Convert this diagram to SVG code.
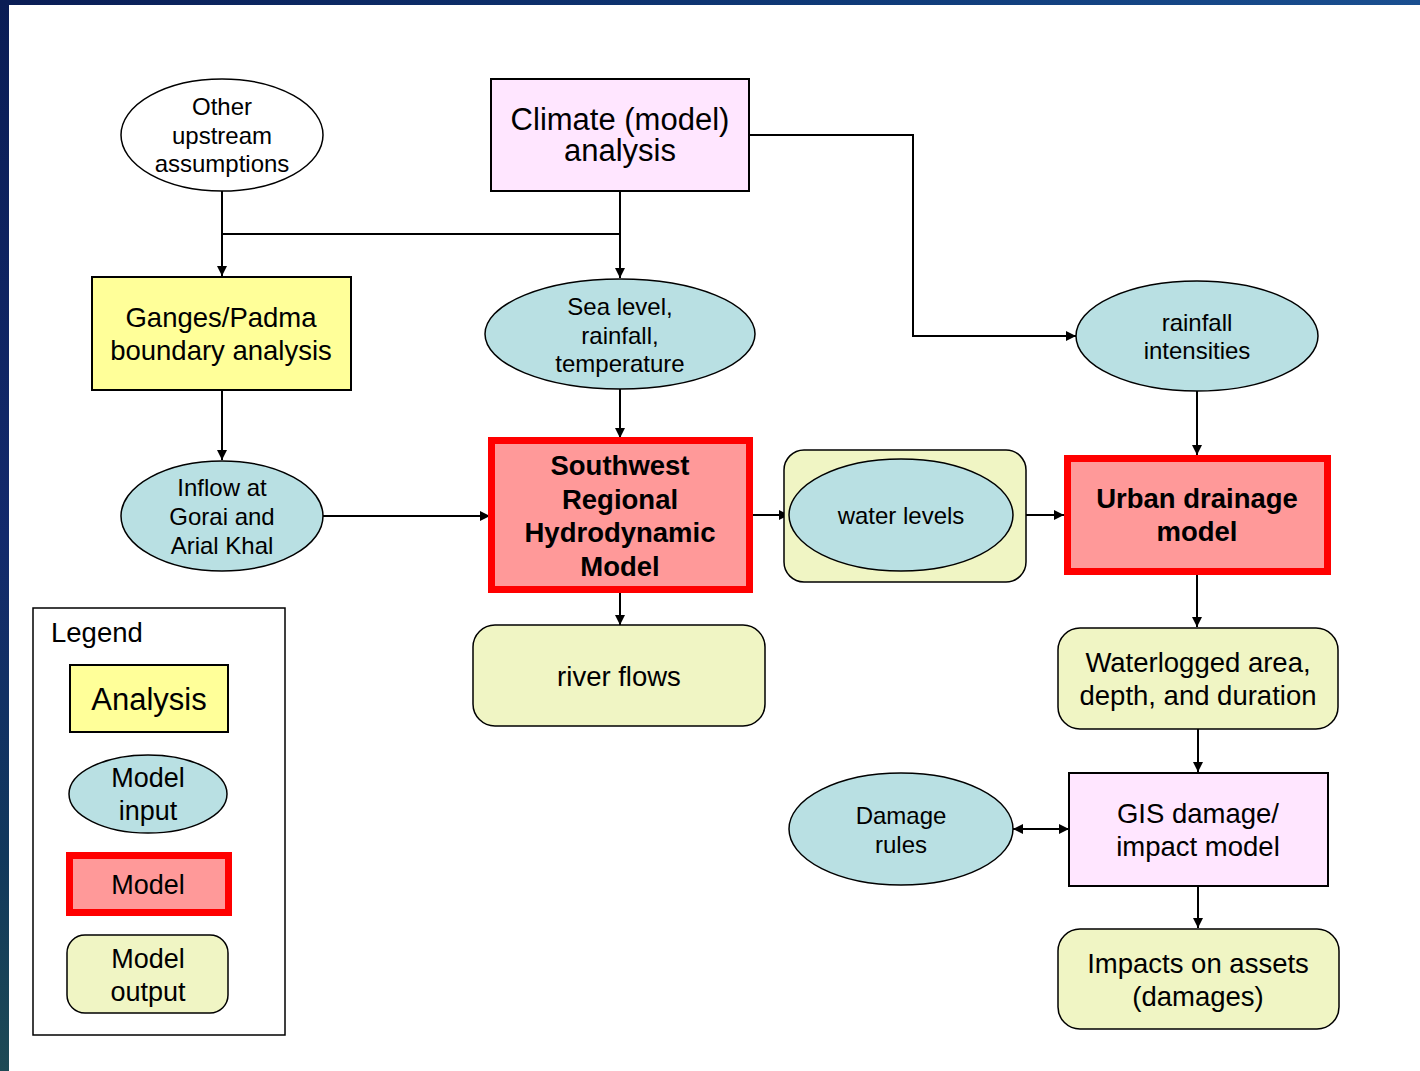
<svg xmlns="http://www.w3.org/2000/svg" width="1420" height="1071" viewBox="0 0 1420 1071">
<defs>
<linearGradient id="gl" x1="0" y1="0" x2="0" y2="1">
<stop offset="0" stop-color="#0a1d55"/>
<stop offset="0.5" stop-color="#132a6c"/>
<stop offset="0.8" stop-color="#11385c"/>
<stop offset="1" stop-color="#1e4a55"/>
</linearGradient>
<linearGradient id="gt" x1="0" y1="0" x2="1" y2="0">
<stop offset="0" stop-color="#0a1d55"/>
<stop offset="0.6" stop-color="#0f3a78"/>
<stop offset="1" stop-color="#1a4f90"/>
</linearGradient>
<marker id="ar" viewBox="0 0 10 10" refX="10" refY="5" markerWidth="10" markerHeight="10" markerUnits="userSpaceOnUse" orient="auto-start-reverse">
<path d="M0,0 L10,5 L0,10 Z" fill="#000"/>
</marker>
<style>
.t{font-family:"Liberation Sans",Arial,sans-serif;fill:#000;text-anchor:middle}
.b{font-weight:bold}
.an{fill:#ffff99;stroke:#000;stroke-width:2}
.cl{fill:#ffe6ff;stroke:#000;stroke-width:2}
.in{fill:#b9e0e3;stroke:#000;stroke-width:1.5}
.md{fill:#ff9999;stroke:#ff0000;stroke-width:7}
.out{fill:#f0f5c4;stroke:#000;stroke-width:1.5}
.c{fill:none;stroke:#000;stroke-width:2}
</style>
</defs>
<rect x="0" y="0" width="1420" height="1071" fill="#fff"/>
<rect x="0" y="0" width="9" height="1071" fill="url(#gl)"/>
<rect x="0" y="0" width="1420" height="5" fill="url(#gt)"/>

<g id="connectors">
<path class="c" d="M222,191 V276" marker-end="url(#ar)"/>
<path class="c" d="M620,191 V278" marker-end="url(#ar)"/>
<path class="c" d="M222,234 H620"/>
<path class="c" d="M749,135 H913 V336 H1076" marker-end="url(#ar)"/>
<path class="c" d="M222,390 V460" marker-end="url(#ar)"/>
<path class="c" d="M620,389 V438" marker-end="url(#ar)"/>
<path class="c" d="M323,516 H490" marker-end="url(#ar)"/>
<path class="c" d="M753,515 H789" marker-end="url(#ar)"/>
<path class="c" d="M1013,515 H1064" marker-end="url(#ar)"/>
<path class="c" d="M1197,391 V455" marker-end="url(#ar)"/>
<path class="c" d="M1197,575 V627" marker-end="url(#ar)"/>
<path class="c" d="M620,593 V625" marker-end="url(#ar)"/>
<path class="c" d="M1198,729 V772" marker-end="url(#ar)"/>
<path class="c" d="M1013,829 H1069" marker-start="url(#ar)" marker-end="url(#ar)"/>
<path class="c" d="M1198,886 V928" marker-end="url(#ar)"/>
</g>

<g id="other-upstream">
<ellipse cx="222" cy="135" rx="101" ry="56" fill="#fff" stroke="#000" stroke-width="1.5"/>
<text class="t" font-size="24"><tspan x="222" y="115">Other</tspan><tspan x="222" y="144">upstream</tspan><tspan x="222" y="172">assumptions</tspan></text>
</g>
<g id="climate">
<rect class="cl" x="491" y="79" width="258" height="112"/>
<text class="t" font-size="31"><tspan x="620" y="130">Climate (model)</tspan><tspan x="620" y="161">analysis</tspan></text>
</g>
<g id="ganges">
<rect class="an" x="92" y="277" width="259" height="113"/>
<text class="t" font-size="27.5"><tspan x="221" y="327">Ganges/Padma</tspan><tspan x="221" y="360">boundary analysis</tspan></text>
</g>
<g id="sea-level">
<ellipse class="in" cx="620" cy="334" rx="135" ry="55"/>
<text class="t" font-size="24"><tspan x="620" y="315">Sea level,</tspan><tspan x="620" y="344">rainfall,</tspan><tspan x="620" y="372">temperature</tspan></text>
</g>
<g id="rainfall">
<ellipse class="in" cx="1197" cy="336" rx="121" ry="55"/>
<text class="t" font-size="24"><tspan x="1197" y="331">rainfall</tspan><tspan x="1197" y="359">intensities</tspan></text>
</g>
<g id="inflow">
<ellipse class="in" cx="222" cy="516" rx="101" ry="55"/>
<text class="t" font-size="24"><tspan x="222" y="496">Inflow at</tspan><tspan x="222" y="525">Gorai and</tspan><tspan x="222" y="554">Arial Khal</tspan></text>
</g>
<g id="sw-model">
<rect class="md" x="491.5" y="440.5" width="258" height="149"/>
<text class="t b" font-size="27.5"><tspan x="620" y="475">Southwest</tspan><tspan x="620" y="509">Regional</tspan><tspan x="620" y="542">Hydrodynamic</tspan><tspan x="620" y="576">Model</tspan></text>
</g>
<g id="water-levels">
<rect class="out" x="784" y="450" width="242" height="132" rx="20"/>
<ellipse class="in" cx="901" cy="515" rx="112" ry="56"/>
<text class="t" font-size="24" x="901" y="524">water levels</text>
</g>
<g id="urban-drainage">
<rect class="md" x="1067.5" y="458.5" width="260" height="113"/>
<text class="t b" font-size="27.5"><tspan x="1197" y="508">Urban drainage</tspan><tspan x="1197" y="541">model</tspan></text>
</g>
<g id="river-flows">
<rect class="out" x="473" y="625" width="292" height="101" rx="22"/>
<text class="t" font-size="27.5" x="619" y="686">river flows</text>
</g>
<g id="waterlogged">
<rect class="out" x="1058" y="628" width="280" height="101" rx="22"/>
<text class="t" font-size="27.5"><tspan x="1198" y="672">Waterlogged area,</tspan><tspan x="1198" y="705">depth, and duration</tspan></text>
</g>
<g id="gis">
<rect class="cl" x="1069" y="773" width="259" height="113"/>
<text class="t" font-size="27.5"><tspan x="1198" y="823">GIS damage/</tspan><tspan x="1198" y="856">impact model</tspan></text>
</g>
<g id="damage-rules">
<ellipse class="in" cx="901" cy="829" rx="112" ry="56"/>
<text class="t" font-size="24"><tspan x="901" y="824">Damage</tspan><tspan x="901" y="853">rules</tspan></text>
</g>
<g id="impacts">
<rect class="out" x="1058" y="929" width="281" height="100" rx="22"/>
<text class="t" font-size="27.5"><tspan x="1198" y="973">Impacts on assets</tspan><tspan x="1198" y="1006">(damages)</tspan></text>
</g>

<g id="legend">
<rect x="33" y="608" width="252" height="427" fill="#fff" stroke="#000" stroke-width="1.5"/>
<text class="t" font-size="27.5" x="51" y="642" style="text-anchor:start">Legend</text>
<rect class="an" x="70" y="665" width="158" height="67"/>
<text class="t" font-size="31" x="149" y="710">Analysis</text>
<ellipse class="in" cx="148" cy="794" rx="79" ry="39"/>
<text class="t" font-size="27"><tspan x="148" y="787">Model</tspan><tspan x="148" y="820">input</tspan></text>
<rect class="md" x="69.5" y="855.5" width="159" height="57"/>
<text class="t" font-size="27" x="148" y="894">Model</text>
<rect class="out" x="67" y="935" width="161" height="78" rx="18"/>
<text class="t" font-size="27"><tspan x="148" y="968">Model</tspan><tspan x="148" y="1001">output</tspan></text>
</g>
</svg>
